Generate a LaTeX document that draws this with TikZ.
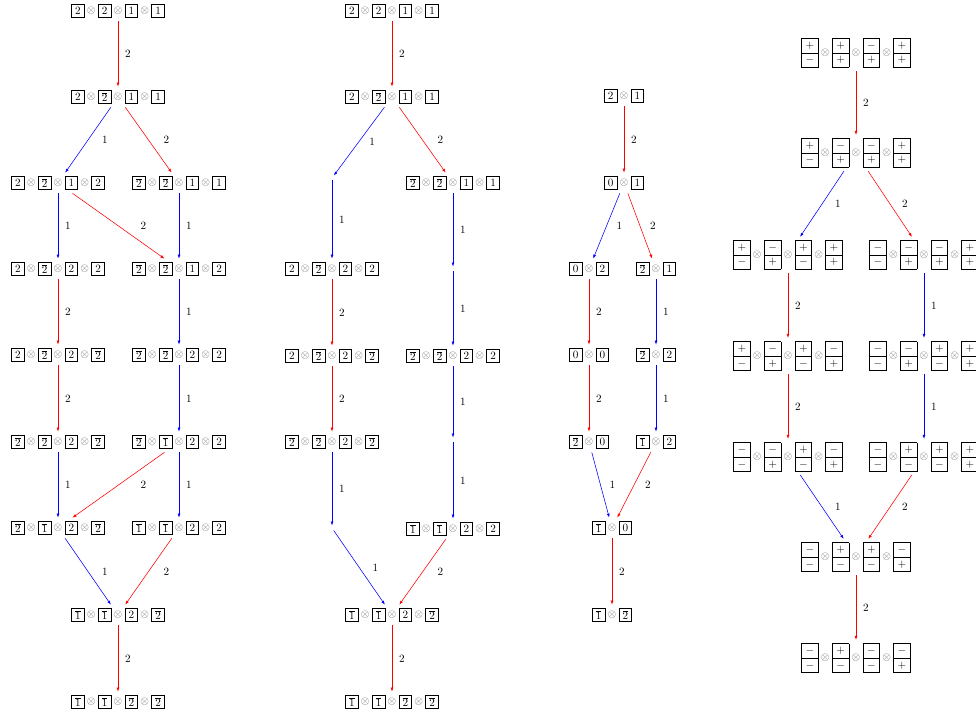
\documentclass[tikz,border=0pt]{standalone}
\usepackage{amsmath,amssymb}
\usepackage{tikz}
\usetikzlibrary{arrows.meta,positioning}
\setlength{\fboxsep}{0pt}
\setlength{\fboxrule}{0.5pt}
% one box of a tableau, and a column of two
\newcommand{\yb}[1]{\fbox{\parbox[c][11.6pt][c]{10.8pt}{\centering$#1$}}}
\newcommand{\obx}[1]{\yb{\overline{#1}}}
\newcommand{\cel}[1]{\parbox[c][12.6pt][c]{14.4pt}{\centering$#1$}}
\newcommand{\db}[2]{\fbox{$\vcenter{\hbox{\cel{#1}}\hrule\hbox{\cel{#2}}}$}}
\newcommand{\ot}{\mathbin{\color{black!62}\otimes}}

\begin{document}
\begin{tikzpicture}[x=0.9pt,y=-0.9pt,font=\normalsize,
    st/.style={inner sep=2.8pt},
    hole/.style={inner sep=2pt},
    arr/.style={line width=0.5pt,-{Latex[length=3.6pt,width=2.6pt]}},
    lab/.style={midway,text=black,xshift=#1*0.9pt},lab/.default=10]
    \useasboundingbox (0,0) rectangle (976,717);
    \clip (0,0) rectangle (976,717);
    % first tree
    \node[st] (a1) at (118,11) {$\yb2\ot\yb2\ot\yb1\ot\yb1$};
    \node[st] (a2) at (118,97) {$\yb2\ot\obx2\ot\yb1\ot\yb1$};
    \node[st] (a3l) at (58,183) {$\yb2\ot\obx2\ot\yb1\ot\yb2$};
    \node[st] (a3r) at (179,183) {$\obx2\ot\obx2\ot\yb1\ot\yb1$};
    \node[st] (a4l) at (58,269) {$\yb2\ot\obx2\ot\yb2\ot\yb2$};
    \node[st] (a4r) at (179,269) {$\obx2\ot\obx2\ot\yb1\ot\yb2$};
    \node[st] (a5l) at (58,355) {$\yb2\ot\obx2\ot\yb2\ot\obx2$};
    \node[st] (a5r) at (179,355) {$\obx2\ot\obx2\ot\yb2\ot\yb2$};
    \node[st] (a6l) at (58,442) {$\obx2\ot\obx2\ot\yb2\ot\obx2$};
    \node[st] (a6r) at (179,442) {$\obx2\ot\obx1\ot\yb2\ot\yb2$};
    \node[st] (a7l) at (58,528) {$\obx2\ot\obx1\ot\yb2\ot\obx2$};
    \node[st] (a7r) at (179,528) {$\obx1\ot\obx1\ot\yb2\ot\yb2$};
    \node[st] (a8) at (118,615) {$\obx1\ot\obx1\ot\yb2\ot\obx2$};
    \node[st] (a9) at (118,702) {$\obx1\ot\obx1\ot\obx2\ot\obx2$};
    % second tree
    \node[st] (b1) at (392,11) {$\yb2\ot\yb2\ot\yb1\ot\yb1$};
    \node[st] (b2) at (392,97) {$\yb2\ot\obx2\ot\yb1\ot\yb1$};
    \node[hole] (b3l) at (332,178) {};
    \node[st] (b3r) at (453,183) {$\obx2\ot\obx2\ot\yb1\ot\yb1$};
    \node[st] (b4l) at (332,269) {$\yb2\ot\obx2\ot\yb2\ot\yb2$};
    \node[hole] (b4r) at (453,269) {};
    \node[st] (b5l) at (332,356) {$\yb2\ot\obx2\ot\yb2\ot\obx2$};
    \node[st] (b5r) at (453,356) {$\obx2\ot\obx2\ot\yb2\ot\yb2$};
    \node[st] (b6l) at (332,442) {$\obx2\ot\obx2\ot\yb2\ot\obx2$};
    \node[hole] (b6r) at (453,440) {};
    \node[hole] (b7l) at (332,528) {};
    \node[st] (b7r) at (453,529) {$\obx1\ot\obx1\ot\yb2\ot\yb2$};
    \node[st] (b8) at (392,615) {$\obx1\ot\obx1\ot\yb2\ot\obx2$};
    \node[st] (b9) at (392,702) {$\obx1\ot\obx1\ot\obx2\ot\obx2$};
    % third tree
    \node[st] (c1) at (624,96) {$\yb2\ot\yb1$};
    \node[st] (c2) at (624,183) {$\yb0\ot\yb1$};
    \node[st] (c3l) at (589,269) {$\yb0\ot\yb2$};
    \node[st] (c3r) at (656,269) {$\obx2\ot\yb1$};
    \node[st] (c4l) at (589,355) {$\yb0\ot\yb0$};
    \node[st] (c4r) at (656,355) {$\obx2\ot\yb2$};
    \node[st] (c5l) at (589,442) {$\obx2\ot\yb0$};
    \node[st] (c5r) at (656,442) {$\obx1\ot\yb2$};
    \node[st] (c6) at (612,528) {$\obx1\ot\yb0$};
    \node[st] (c7) at (612,615) {$\obx1\ot\obx2$};
    % fourth tree
    \node[st] (d1) at (856,53) {$\db+-\ot\db++\ot\db-+\ot\db++$};
    \node[st] (d2) at (856,153) {$\db+-\ot\db-+\ot\db-+\ot\db++$};
    \node[st] (d3l) at (788,255) {$\db+-\ot\db-+\ot\db+-\ot\db++$};
    \node[st] (d3r) at (924,255) {$\db--\ot\db-+\ot\db-+\ot\db++$};
    \node[st] (d4l) at (788,356) {$\db+-\ot\db-+\ot\db+-\ot\db-+$};
    \node[st] (d4r) at (924,356) {$\db--\ot\db-+\ot\db+-\ot\db++$};
    \node[st] (d5l) at (788,457) {$\db--\ot\db-+\ot\db+-\ot\db-+$};
    \node[st] (d5r) at (924,457) {$\db--\ot\db+-\ot\db+-\ot\db++$};
    \node[st] (d6) at (856,557) {$\db--\ot\db+-\ot\db+-\ot\db-+$};
    \node[st] (d7) at (856,658) {$\db--\ot\db+-\ot\db--\ot\db-+$};
    % arrows
    \foreach \u/\v/\c/\l/\s in {%
      a1/a2/red/2/10, a2/a3l/blue/1/17, a2/a3r/red/2/18,
      a3l/a4l/blue/1/10, a3l/a4r/red/2/25, a3r/a4r/blue/1/10,
      a4l/a5l/red/2/10, a4r/a5r/blue/1/10, a5l/a6l/red/2/10,
      a5r/a6r/blue/1/10, a6l/a7l/blue/1/10, a6r/a7l/red/2/25,
      a6r/a7r/blue/1/10, a7l/a8/blue/1/17, a7r/a8/red/2/18,
      a8/a9/red/2/10,
      b1/b2/red/2/10, b2/b3l/blue/1/13, b2/b3r/red/2/18,
      b3l/b4l/blue/1/10, b3r/b4r/blue/1/10, b4l/b5l/red/2/10,
      b4r/b5r/blue/1/10, b5l/b6l/red/2/10, b5r/b6r/blue/1/10,
      b6l/b7l/blue/1/10, b6r/b7r/blue/1/10, b7l/b8/blue/1/16,
      b7r/b8/red/2/18, b8/b9/red/2/10,
      c1/c2/red/2/10, c2/c3l/blue/1/13, c2/c3r/red/2/13,
      c3l/c4l/red/2/10, c3r/c4r/blue/1/10, c4l/c5l/red/2/10,
      c4r/c5r/blue/1/10, c5l/c6/blue/1/12, c5r/c6/red/2/14,
      c6/c7/red/2/10,
      d1/d2/red/2/10, d2/d3l/blue/1/16, d2/d3r/red/2/15,
      d3l/d4l/red/2/10, d3r/d4r/blue/1/10, d4l/d5l/red/2/10,
      d4r/d5r/blue/1/10, d5l/d6/blue/1/16, d5r/d6/red/2/15,
      d6/d7/red/2/10}{
      \draw[arr,\c] (\u) -- node[lab=\s] {\l} (\v);}
\end{tikzpicture}
\end{document}
